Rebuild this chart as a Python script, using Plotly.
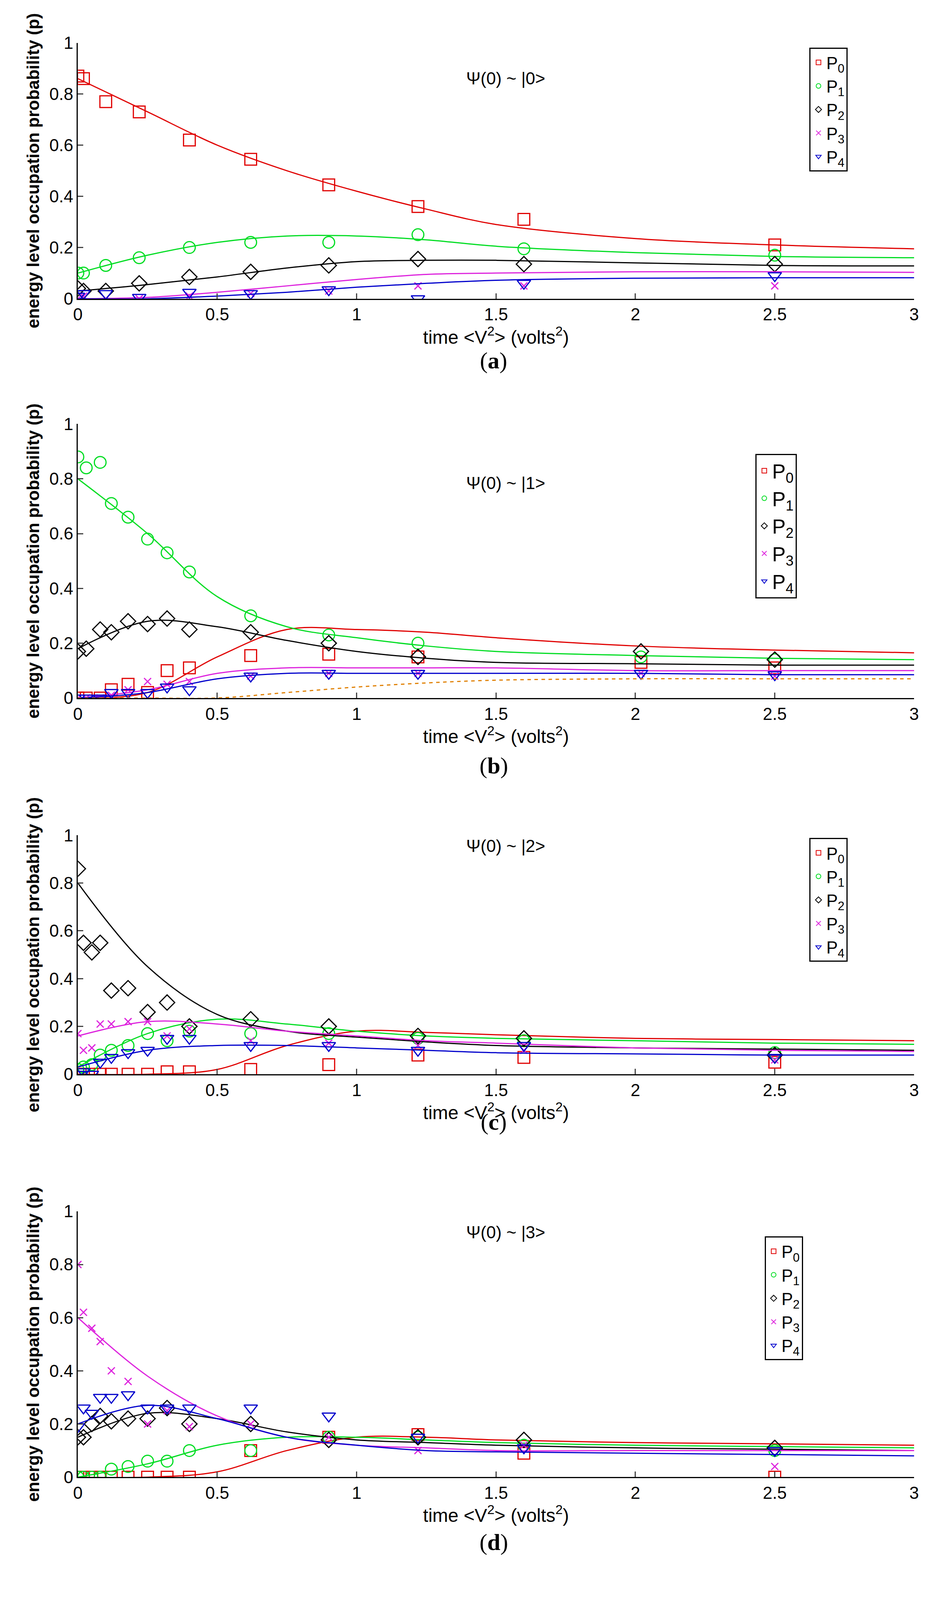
import plotly.graph_objects as go

names = ["P<sub>0</sub>", "P<sub>1</sub>", "P<sub>2</sub>", "P<sub>3</sub>", "P<sub>4</sub>"]
colors = ["#e00000", "#00dd22", "black", "#dd22dd", "#0000cc"]
symbols = ["square-open", "circle-open", "diamond-open", "x-thin-open", "triangle-down-open"]
panel_titles = ["Ψ(0) ~ |0>", "Ψ(0) ~ |1>", "Ψ(0) ~ |2>", "Ψ(0) ~ |3>"]
captions = ["(<b>a</b>)", "(<b>b</b>)", "(<b>c</b>)", "(<b>d</b>)"]

# measured points
xa = [0, 0.02, 0.1, 0.22, 0.4, 0.62, 0.9, 1.22, 1.6, 2.5]
pa = [[.87, .86, .77, .73, .62, .545, .445, .36, .31, .21],
      [.10, .10, .13, .16, .20, .22, .22, .25, .195, .17],
      [.04, .03, .03, .06, .085, .105, .13, .155, .135, .135],
      [0, .01, 0, 0, .01, .02, .03, .05, .05, .05],
      [.01, .02, .02, .005, .025, .02, .035, 0, .06, .09]]
xb = [0, 0.03, 0.08, 0.12, 0.18, 0.25, 0.32, 0.4, 0.62, 0.9, 1.22, 2.02, 2.5]
pb = [[0, 0, 0, .03, .05, .02, .10, .11, .155, .16, .15, .13, .11],
      [.88, .84, .86, .71, .66, .58, .53, .46, .30, .23, .20, .15, .14],
      [.17, .18, .25, .24, .28, .27, .29, .25, .24, .20, .15, .17, .14],
      [0, 0, 0, .01, .03, .06, .05, .06, .08, .09, .09, .09, .08],
      [0, 0, 0, .02, .02, .02, .04, .03, .08, .09, .09, .09, .085]]
xc = [0, 0.02, 0.05, 0.08, 0.12, 0.18, 0.25, 0.32, 0.4, 0.62, 0.9, 1.22, 1.6, 2.5]
pc = [[0, 0, 0, 0, 0, 0, 0, .01, .01, .02, .04, .08, .07, .05],
      [.02, .03, .04, .08, .10, .12, .17, .14, .18, .17, .17, .15, .14, .09],
      [.86, .55, .51, .55, .35, .36, .26, .30, .20, .23, .20, .16, .15, .08],
      [.17, .10, .11, .21, .21, .22, .22, .16, .19, .14, .13, .12, .10, .06],
      [0, .01, 0, .05, .07, .09, .10, .15, .15, .12, .12, .10, .12, .07]]
xd = [0, 0.02, 0.05, 0.08, 0.12, 0.18, 0.25, 0.32, 0.4, 0.62, 0.9, 1.22, 1.6, 2.5]
pd_ = [[0, 0, 0, 0, 0, 0, 0, 0, 0, .10, .15, .16, .09, 0],
       [0, 0, 0, 0, .03, .04, .06, .06, .10, .10, .15, .15, .12, .10],
       [.15, .15, .20, .23, .21, .22, .22, .26, .20, .20, .14, .15, .14, .11],
       [.80, .62, .56, .51, .40, .36, .20, .25, .19, .20, .15, .10, .12, .04],
       [.19, .26, .24, .30, .30, .31, .26, .26, .26, .26, .23, .15, .11, .10]]

# fitted curves
xf = [0, 0.25, 0.5, 0.75, 1, 1.25, 1.5, 2, 2.5, 3]
fa = [[.86, .73, .60, .50, .42, .35, .29, .235, .21, .195],
      [.10, .17, .22, .245, .245, .23, .205, .18, .165, .16],
      [.03, .055, .085, .12, .145, .15, .15, .14, .13, .128],
      [0, .005, .025, .05, .075, .095, .10, .105, .105, .103],
      [0, 0, .01, .025, .045, .06, .072, .08, .082, .082]]
fb = [[0, .02, .15, .25, .25, .24, .22, .19, .175, .165],
      [.80, .60, .37, .26, .22, .19, .17, .155, .145, .14],
      [.18, .28, .26, .21, .17, .145, .13, .125, .12, .12],
      [0, .03, .09, .11, .11, .11, .11, .10, .10, .10],
      [0, .02, .07, .09, .09, .09, .09, .09, .085, .085]]
fb_extra = [0, 0, 0, .02, .04, .055, .065, .07, .07, .07]
fc = [[0, 0, .02, .12, .18, .175, .165, .15, .145, .14],
      [.03, .17, .23, .21, .18, .16, .15, .14, .13, .125],
      [.80, .45, .25, .18, .155, .135, .12, .11, .105, .10],
      [.16, .22, .21, .18, .16, .14, .13, .11, .10, .095],
      [.03, .10, .12, .12, .11, .10, .09, .085, .08, .08]]
fd = [[0, 0, .02, .10, .15, .15, .14, .13, .125, .12],
      [0, .05, .12, .15, .15, .14, .13, .12, .115, .11],
      [.15, .24, .22, .17, .14, .13, .12, .11, .105, .10],
      [.60, .38, .23, .15, .12, .11, .10, .10, .10, .10],
      [.20, .27, .22, .15, .12, .10, .095, .09, .085, .08]]

panels = [(xa, pa, fa), (xb, pb, fb), (xc, pc, fc), (xd, pd_, fd)]
ydom = [(0.8185, 0.981), (0.5649, 0.7389), (0.326, 0.4777), (0.0701, 0.2389)]
legpos = [(0.858, 0.978), (0.80, 0.72), (0.858, 0.476), (0.81, 0.223)]
titley = [0.965, 0.708, 0.471, 0.219]
capy = [0.788, 0.522, 0.287, 0.02]

fig = go.Figure()
font = "Liberation Sans, Arial"
for k, (xs, pts, fits) in enumerate(panels):
    sfx = "" if k == 0 else str(k + 1)
    leg = "legend" + sfx
    for i in range(5):
        fig.add_trace(go.Scatter(x=xf, y=fits[i], mode="lines", line=dict(color=colors[i], width=3, shape="spline"),
                                 xaxis="x" + sfx, yaxis="y" + sfx, showlegend=False))
        fig.add_trace(go.Scatter(x=xs, y=pts[i], mode="markers", name=names[i], legend=leg,
                                 marker=dict(symbol=symbols[i], size=30 if i != 3 else 18,
                                             color=colors[i], line=dict(width=3, color=colors[i])),
                                 xaxis="x" + sfx, yaxis="y" + sfx))
    if k == 1:
        fig.add_trace(go.Scatter(x=xf, y=fb_extra, mode="lines", line=dict(color="#e08000", width=3, dash="dash", shape="spline"),
                                 xaxis="x2", yaxis="y2", showlegend=False))
    fig.update_layout(**{
        "xaxis" + sfx: dict(domain=[0.075, 0.97], range=[0, 3], dtick=0.5, anchor="y" + sfx,
                             showline=True, linecolor="black", linewidth=3, ticks="inside", ticklen=14,
                             tickwidth=3, showgrid=False, zeroline=False,
                             tickfont=dict(size=44, family=font, color="black"),
                             title=dict(text="time <V<sup>2</sup>> (volts<sup>2</sup>)", standoff=8,
                                        font=dict(size=48, family=font, color="black"))),
        "yaxis" + sfx: dict(domain=list(ydom[k]), range=[0, 1], dtick=0.2, anchor="x" + sfx,
                             showline=True, linecolor="black", linewidth=3, ticks="inside", ticklen=14,
                             tickwidth=3, showgrid=False, zeroline=False, tickformat="~g",
                             tickfont=dict(size=44, family=font, color="black"),
                             title=dict(text="<b>energy level occupation probability (p)</b>", standoff=12,
                                        font=dict(size=44, family=font, color="black"))),
        leg: dict(x=legpos[k][0], y=legpos[k][1], xanchor="left", yanchor="top", bordercolor="black",
                  borderwidth=3, bgcolor="white",
                  font=dict(size=52 if k == 1 else 44, family=font, color="black"),
                  tracegroupgap=10, itemsizing="constant"),
    })
    fig.add_annotation(text=panel_titles[k], x=0.533, y=titley[k], xref="paper", yref="paper",
                       showarrow=False, font=dict(size=44, family=font, color="black"))
    fig.add_annotation(text=captions[k], x=0.52, y=capy[k], xref="paper", yref="paper",
                       showarrow=False, font=dict(size=60, family="Liberation Serif", color="black"))

# fill the browser window instead of a fixed pixel size
fig.update_layout(margin=dict(l=0, r=0, t=0, b=0), plot_bgcolor="white", paper_bgcolor="white")
fig.write_html("out.html")
